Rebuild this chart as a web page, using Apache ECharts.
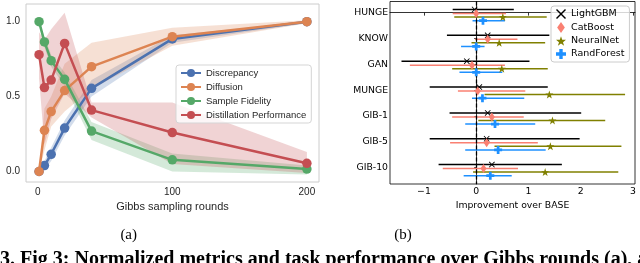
<!DOCTYPE html>
<html><head><meta charset="utf-8">
<script src="https://cdn.jsdelivr.net/npm/echarts@6/dist/echarts.min.js"></script>
<style>html,body{margin:0;padding:0;background:#fff}#c{width:640px;height:263px}</style>
</head><body><div id="c"></div>
<script>
// ---------- Panel (a) data ----------
const rounds = [1, 5, 10, 20, 40, 100, 200];
const aTicksX = [0, 100, 200];
const aTicksY = [0, 0.5, 1.0];
const seriesNamesA = ['Discrepancy', 'Diffusion', 'Sample Fidelity', 'Distillation Performance'];
const discrepancy = [0.0, 0.04, 0.115, 0.29, 0.555, 0.885, 1.0];
const discLo      = [0.0, 0.01, 0.07, 0.24, 0.50, 0.86, 0.99];
const discHi      = [0.0, 0.07, 0.16, 0.34, 0.61, 0.91, 1.0];
const diffusion   = [0.0, 0.275, 0.40, 0.54, 0.70, 0.90, 1.0];
const diffLo      = [0.0, 0.14, 0.30, 0.40, 0.55, 0.84, 0.99];
const diffHi      = [0.0, 0.42, 0.50, 0.72, 0.86, 0.96, 1.01];
const fidelity    = [1.0, 0.865, 0.74, 0.615, 0.27, 0.078, 0.016];
const fidLo       = [0.98, 0.83, 0.70, 0.57, 0.21, 0.0, -0.02];
const fidHi       = [1.0, 0.90, 0.78, 0.66, 0.33, 0.12, 0.04];
const distill     = [0.78, 0.56, 0.61, 0.855, 0.41, 0.26, 0.055];
const distLo      = [0.62, 0.18, 0.35, 0.52, 0.36, 0.05, -0.01];
const distHi      = [0.93, 0.88, 0.95, 1.06, 0.46, 0.46, 0.13];

// ---------- Panel (b) data ----------
const datasets = ['HUNGE', 'KNOW', 'GAN', 'MUNGE', 'GIB-1', 'GIB-5', 'GIB-10'];
const bTicksX = [-1, 0, 1, 2, 3];
const modelNames = ['LightGBM', 'CatBoost', 'NeuralNet', 'RandForest'];
const lgbMean = [-0.03, 0.22, -0.18, 0.06, 0.22, 0.20, 0.30];
const lgbLo   = [-0.45, -0.56, -1.43, -0.89, -0.51, -0.89, -0.72];
const lgbHi   = [0.72, 1.40, 1.02, 1.37, 2.01, 1.98, 1.64];
const catMean = [0.0, 0.22, -0.08, 0.03, 0.30, 0.20, 0.14];
const catLo   = [-0.45, -0.02, -1.27, -0.35, -0.46, -0.50, -0.64];
const catHi   = [0.57, 0.79, 0.55, 0.94, 0.91, 1.18, 0.80];
const nnMean  = [0.51, 0.44, 0.49, 1.40, 1.46, 1.42, 1.32];
const nnLo    = [-0.42, -0.09, -0.46, 0.16, 0.04, 0.35, -0.06];
const nnHi    = [1.35, 1.32, 1.37, 2.85, 2.47, 2.78, 2.72];
const rfMean  = [0.13, 0.0, 0.0, 0.12, 0.36, 0.42, 0.27];
const rfLo    = [-0.07, -0.29, -0.32, -0.08, -0.21, -0.21, -0.24];
const rfHi    = [0.55, 0.16, 0.50, 0.92, 1.13, 1.33, 0.68];

// ---------- captions ----------
const captionA = '(a)';
const captionB = '(b)';
const figCaption = '3. Fig 3: Normalized metrics and task performance over Gibbs rounds (a), and';

// ---------- styles ----------
const colorsA = ['#4C72B0', '#DD8452', '#55A868', '#C44E52'];
const colorsB = ['#000000', '#FA8072', '#808000', '#1E90FF'];
const rowOffsets = [-0.12, 0.035, 0.17, 0.31];
const FA = '"Liberation Sans", Arial, sans-serif';
const FB = '"DejaVu Sans", sans-serif';
const symX = 'path://M0,1 L1,0 L5,4 L9,0 L10,1 L6,5 L10,9 L9,10 L5,6 L1,10 L0,9 L4,5 Z';
const symStar = 'path://M5,0 L6.2,3.6 L10,3.6 L7,5.9 L8.1,9.5 L5,7.3 L1.9,9.5 L3,5.9 L0,3.6 L3.8,3.6 Z';
const symPlus = 'path://M3.3,0 H6.7 V3.3 H10 V6.7 H6.7 V10 H3.3 V6.7 H0 V3.3 H3.3 Z';
const symDiamond = 'path://M5,0 L8.5,5 L5,10 L1.5,5 Z';
const symbolsB = [symX, symDiamond, symStar, symPlus];
const symbolSizesB = [6, [6, 9], 8, 8];

const seriesA = [
  [discrepancy, discLo, discHi],
  [diffusion, diffLo, diffHi],
  [fidelity, fidLo, fidHi],
  [distill, distLo, distHi]
];
const seriesB = [
  [lgbMean, lgbLo, lgbHi],
  [catMean, catLo, catHi],
  [nnMean, nnLo, nnHi],
  [rfMean, rfLo, rfHi]
];

const series = [];
// confidence bands (polygon through the axis scales)
seriesA.forEach((s, k) => {
  const [mid, lo, hi] = s;
  series.push({
    type: 'custom', xAxisIndex: 0, yAxisIndex: 0, silent: true, z: 1, clip: true,
    data: rounds.map((x, i) => [x, lo[i], hi[i]]),
    encode: { x: 0, y: [1, 2] },
    renderItem: (params, api) => {
      if (params.dataIndex !== 0) return null;
      const pts = [];
      for (let i = 0; i < rounds.length; i++) pts.push(api.coord([rounds[i], hi[i]]));
      for (let i = rounds.length - 1; i >= 0; i--) pts.push(api.coord([rounds[i], lo[i]]));
      return { type: 'polygon', shape: { points: pts },
        style: { fill: colorsA[k], opacity: 0.25 } };
    }
  });
});
// mean lines
seriesA.forEach((s, k) => {
  series.push({
    type: 'line', name: seriesNamesA[k], xAxisIndex: 0, yAxisIndex: 0,
    data: s[0].map((v, i) => [rounds[i], v]),
    symbol: 'circle', symbolSize: 9.5, showAllSymbol: true,
    lineStyle: { width: 2.5, color: colorsA[k] }, itemStyle: { color: colorsA[k] }, z: 3 + k
  });
});
// error bars + markers
seriesB.forEach((s, k) => {
  const [mean, lo, hi] = s;
  series.push({
    type: 'custom', xAxisIndex: 1, yAxisIndex: 1, silent: true, z: 2,
    data: lo.map((l, i) => [l, hi[i], i + rowOffsets[k]]),
    encode: { x: [0, 1], y: 2 },
    renderItem: (params, api) => {
      const p1 = api.coord([api.value(0), api.value(2)]);
      const p2 = api.coord([api.value(1), api.value(2)]);
      return { type: 'line', shape: { x1: p1[0], y1: p1[1], x2: p2[0], y2: p2[1] },
        style: { stroke: colorsB[k], lineWidth: 1.5 } };
    }
  });
  const sc = {
    type: 'scatter', name: modelNames[k], xAxisIndex: 1, yAxisIndex: 1, z: 4,
    data: mean.map((m, i) => [m, i + rowOffsets[k]]),
    symbol: symbolsB[k], symbolSize: symbolSizesB[k], itemStyle: { color: colorsB[k], opacity: 1 }
  };
  if (k === 0) {
    sc.markLine = {
      silent: true, symbol: ['none', 'none'], label: { show: false },
      lineStyle: { color: '#000', type: [4, 2], width: 1.3 }, data: [{ xAxis: 0 }], z: 3
    };
  }
  series.push(sc);
});

const option = {
  animation: false,
  backgroundColor: '#fff',
  grid: [
    { left: 26, top: 4, width: 293, height: 178, show: true, borderColor: '#cccccc', borderWidth: 1 },
    { left: 390, top: 1.5, width: 245, height: 182.5, show: true, borderColor: '#000', borderWidth: 0.8 }
  ],
  xAxis: [
    { type: 'value', gridIndex: 0, min: -8.7, max: 209,
      splitLine: { show: false }, axisLine: { show: false }, axisTick: { show: false },
      axisLabel: { customValues: aTicksX, color: '#262626', fontSize: 10, fontFamily: FA, margin: 5 },
      name: 'Gibbs sampling rounds', nameLocation: 'middle', nameGap: 17,
      nameTextStyle: { fontSize: 11, color: '#262626', fontFamily: FA } },
    { type: 'value', gridIndex: 1, min: -1.65, max: 3.04,
      splitLine: { show: false },
      axisLine: { show: true, lineStyle: { color: '#000', width: 0.8 } },
      axisTick: { show: true, customValues: bTicksX, length: 3, lineStyle: { color: '#000', width: 0.8 } },
      axisLabel: { customValues: bTicksX, color: '#000', fontSize: 9.3, fontFamily: FB, margin: 3,
        formatter: v => (v < 0 ? '\u2212' + Math.abs(v) : String(v)) },
      name: 'Improvement over BASE', nameLocation: 'middle', nameGap: 16,
      nameTextStyle: { fontSize: 9.3, color: '#000', fontFamily: FB } }
  ],
  yAxis: [
    { type: 'value', gridIndex: 0, min: -0.07, max: 1.118,
      splitLine: { show: false }, axisLine: { show: false }, axisTick: { show: false },
      axisLabel: { customValues: aTicksY, color: '#262626', fontSize: 10, fontFamily: FA, margin: 6,
        formatter: v => v.toFixed(1) } },
    { type: 'value', gridIndex: 1, min: -0.43, max: 6.63, inverse: true,
      splitLine: { show: false },
      axisLine: { show: true, lineStyle: { color: '#000', width: 0.8 } },
      axisTick: { show: true, customValues: datasets.map((d, i) => i), length: 2, lineStyle: { color: '#000', width: 0.8 } },
      axisLabel: { customValues: datasets.map((d, i) => i), color: '#000', fontSize: 9.3, fontFamily: FB, margin: 2,
        formatter: v => datasets[Math.round(v)] } }
  ],
  legend: [
    { data: seriesNamesA, orient: 'vertical', left: 176, top: 65, itemWidth: 20, itemHeight: 10, itemGap: 4,
      padding: [3, 5, 3, 4], borderColor: '#d5d5d5', borderWidth: 1, borderRadius: 3,
      backgroundColor: 'rgba(255,255,255,0.8)', selectedMode: false,
      textStyle: { fontSize: 9.5, color: '#262626', fontFamily: FA } },
    { data: modelNames.map((n, k) => ({ name: n, icon: symbolsB[k] })), orient: 'vertical', left: 551, top: 6,
      itemWidth: 10, itemHeight: 11, itemGap: 3, padding: [3, 5, 3, 5],
      borderColor: '#cccccc', borderWidth: 1, borderRadius: 3,
      backgroundColor: 'rgba(255,255,255,0.8)', selectedMode: false,
      textStyle: { fontSize: 9.5, color: '#000', fontFamily: FB } }
  ],
  graphic: [
    { type: 'text', x: 128.7, y: 235, style: { text: captionA, align: 'center', verticalAlign: 'middle',
      font: '15px "Liberation Serif", serif', fill: '#000' } },
    { type: 'text', x: 403, y: 235, style: { text: captionB, align: 'center', verticalAlign: 'middle',
      font: '15px "Liberation Serif", serif', fill: '#000' } },
    { type: 'text', x: 0, y: 250, style: { text: figCaption,
      verticalAlign: 'top', font: 'bold 20px "Liberation Serif", serif', fill: '#000' } }
  ],
  series: series
};
const chart = echarts.init(document.getElementById('c'), null, { renderer: 'canvas' });
chart.setOption(option);
</script></body></html>
